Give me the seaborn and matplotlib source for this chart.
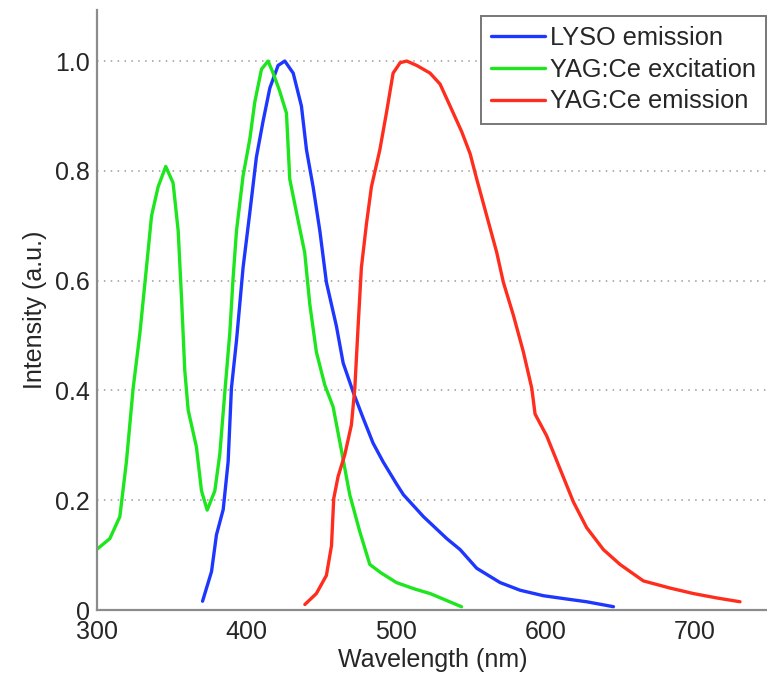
import matplotlib
matplotlib.use("Agg")
import matplotlib.pyplot as plt
import seaborn as sns
import pandas as pd

# Spectra (wavelength in nm, normalised intensity)
lyso_wl = [370.9, 376.9, 380.2, 384.7, 388, 390.2, 393.6, 398, 402.5, 406.9,
           411.4, 415.9, 421.4, 425.9, 431.5, 437, 440.4, 444.8, 449.3, 453.7,
           460.4, 464.9, 471.6, 478.2, 484.9, 491.6, 500.5, 505.2, 518.6, 534.2,
           543.1, 554.2, 569.8, 583.2, 598.8, 614.4, 627.7, 645.6]
lyso_int = [0.016, 0.070, 0.137, 0.183, 0.270, 0.404, 0.491, 0.624, 0.724, 0.825,
            0.891, 0.951, 0.992, 1.0, 0.978, 0.918, 0.838, 0.771, 0.691, 0.597,
            0.517, 0.450, 0.397, 0.350, 0.304, 0.270, 0.230, 0.210, 0.170, 0.130,
            0.110, 0.076, 0.050, 0.036, 0.026, 0.020, 0.015, 0.006]

yag_exc_wl = [300, 308.9, 315.6, 320, 324.5, 329, 333.4, 336.8, 341.2, 346.3,
              351.2, 354.6, 356.8, 359, 361.3, 366.8, 370.2, 374, 379.1, 382.4,
              385.8, 389.1, 391.3, 393.6, 398, 402.5, 405.8, 410.3, 414.7, 418.1,
              422.5, 427, 429.2, 433.7, 439.2, 442.6, 447, 452.6, 458.2, 463.8,
              469.3, 476, 482.7, 490, 500.5, 513, 523, 544]
yag_exc_int = [0.110, 0.130, 0.170, 0.270, 0.404, 0.504, 0.624, 0.718, 0.771,
               0.808, 0.778, 0.691, 0.571, 0.437, 0.364, 0.297, 0.217, 0.182,
               0.217, 0.283, 0.397, 0.504, 0.604, 0.691, 0.791, 0.858, 0.925,
               0.985, 1.0, 0.978, 0.945, 0.905, 0.785, 0.724, 0.651, 0.557, 0.470,
               0.410, 0.370, 0.290, 0.210, 0.143, 0.083, 0.068, 0.050, 0.038,
               0.030, 0.006]

yag_em_wl = [439.3, 447, 453.7, 457.1, 458.6, 461.5, 466, 470.4, 472.7, 474.9,
             477.1, 480.5, 483.8, 489.4, 493.8, 498.3, 503, 507.4, 514.1, 523,
             529.7, 536.4, 544.2, 549.8, 554.2, 560.9, 567.6, 572, 578.7, 585.4,
             591, 593.2, 601, 609.9, 618.8, 627.7, 638.9, 650, 665.6, 683.4, 699,
             714.6, 730.2]
yag_em_int = [0.010, 0.030, 0.063, 0.117, 0.203, 0.243, 0.283, 0.337, 0.404,
              0.517, 0.624, 0.704, 0.771, 0.838, 0.905, 0.978, 0.997, 1.0, 0.992,
              0.978, 0.958, 0.918, 0.871, 0.831, 0.785, 0.718, 0.651, 0.597,
              0.537, 0.470, 0.404, 0.357, 0.317, 0.257, 0.197, 0.150, 0.110,
              0.083, 0.053, 0.040, 0.030, 0.022, 0.015]

series_names = ["LYSO emission", "YAG:Ce excitation", "YAG:Ce emission"]
series_colors = ["#1e37ff", "#1ee61e", "#ff2d1e"]

x_ticks = [300, 400, 500, 600, 700]
y_ticks = [0, 0.2, 0.4, 0.6, 0.8, 1.0]
y_tick_labels = ["0", "0.2", "0.4", "0.6", "0.8", "1.0"]

frames = []
for name, wl, inten in zip(series_names,
                           [lyso_wl, yag_exc_wl, yag_em_wl],
                           [lyso_int, yag_exc_int, yag_em_int]):
    frames.append(pd.DataFrame({"Wavelength": wl, "Intensity": inten,
                                "Spectrum": name}))
df = pd.concat(frames, ignore_index=True)

sns.set_style("white")
plt.rcParams["font.family"] = ["Liberation Sans", "DejaVu Sans"]

text_color = "#262626"
fig = plt.figure(figsize=(7.67, 6.73), dpi=100)
ax = fig.add_axes([96.5 / 767, 63 / 673, 673.1 / 767, 600 / 673])

sns.lineplot(data=df, x="Wavelength", y="Intensity", hue="Spectrum",
             hue_order=series_names, palette=series_colors,
             estimator=None, sort=False, linewidth=2.4, ax=ax)

ax.set_xlim(300, 750)
ax.set_ylim(0, 1.093)
ax.set_xticks(x_ticks)
ax.set_yticks(y_ticks)
ax.set_yticklabels(y_tick_labels)

ax.yaxis.grid(True, linestyle=(0, (1, 3.5)), color="#9a9a9a", linewidth=1.1)
ax.xaxis.grid(False)

for side in ["top", "right"]:
    ax.spines[side].set_visible(False)
for side in ["left", "bottom"]:
    ax.spines[side].set_color("#8c8c8c")
    ax.spines[side].set_linewidth(1.6)

ax.tick_params(axis="both", direction="in", length=5, width=1.2,
               color="#555555", labelsize=18, labelcolor=text_color)
ax.tick_params(axis="x", pad=7)
ax.tick_params(axis="y", pad=5)

ax.set_xlabel("Wavelength (nm)", fontsize=18, color=text_color, labelpad=3)
ax.set_ylabel("Intensity (a.u.)", fontsize=18, color=text_color, labelpad=5.5)

leg = ax.legend(loc="upper right", bbox_to_anchor=(766 / 767, 1 - 16 / 673),
                bbox_transform=fig.transFigure, fontsize=18.3, frameon=True,
                fancybox=False, framealpha=1, edgecolor="#777777",
                borderpad=0.4, labelspacing=0.3, handlelength=2.1,
                handletextpad=0.2, borderaxespad=0)
leg.get_frame().set_linewidth(1.4)
for t in leg.get_texts():
    t.set_color(text_color)
for h in leg.get_lines():
    h.set_linewidth(2.4)

fig.savefig("out.png", dpi=100)
